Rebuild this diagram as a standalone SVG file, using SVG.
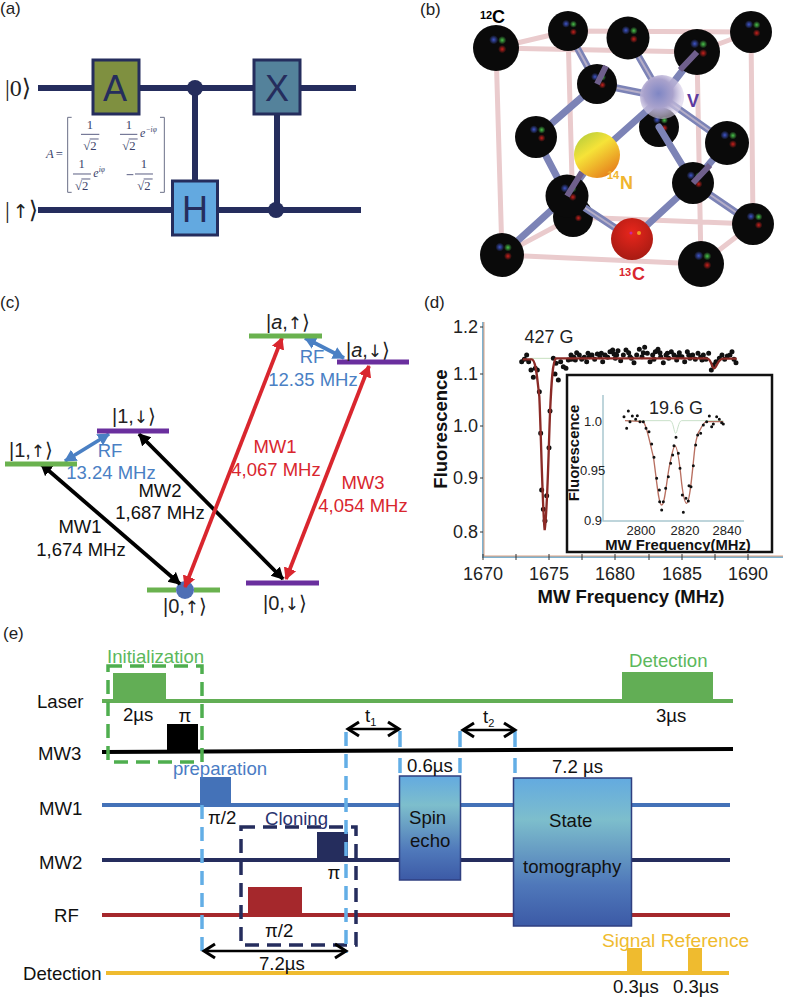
<svg xmlns="http://www.w3.org/2000/svg" xmlns:xlink="http://www.w3.org/1999/xlink" width="787" height="997" viewBox="0 0 787 997">
<style>
text{font-family:"Liberation Sans",Arial,sans-serif}
.p{font-size:17px;fill:#222}
.m{text-anchor:middle}
.gate{font-size:36px;fill:#252d5d;text-anchor:middle}
.wire{stroke:#252d5d;stroke-width:6;fill:none}
.gbox{stroke:#252d5d;stroke-width:3}
.ket{font-family:"Liberation Serif","DejaVu Serif",serif;fill:#222}
.ar{font-family:"DejaVu Sans",sans-serif}
.mx{font-family:"Liberation Serif",serif;font-size:38px;fill:#3a3f6a;text-anchor:middle}
.mxs{font-family:"Liberation Serif",serif;font-style:italic;fill:#3a3f6a}
.bar{stroke:#3a3f6a;stroke-width:2.5;fill:none}
.edge{stroke:#eacbcd;stroke-width:5;fill:none}
.bond{stroke:#7c83b6;stroke-width:7;stroke-linecap:round;fill:none}
.bondh{stroke:#b5aec8;stroke-width:2;fill:none}
.lv{stroke-width:5;fill:none}
.lg{stroke:#6ab24f}
.lp{stroke:#6a2f9e}
.t18{font-size:18.5px}
.blk{stroke:#000;stroke-width:3.8;fill:none;marker-start:url(#hk);marker-end:url(#hk)}
.red{stroke:#d9262e;stroke-width:3.8;fill:none;marker-start:url(#hr);marker-end:url(#hr)}
.blu{stroke:#4a80c4;stroke-width:3.8;fill:none;marker-start:url(#hb);marker-end:url(#hb)}
.dim{stroke:#000;stroke-width:2.5;fill:none;marker-start:url(#ho);marker-end:url(#ho)}
.line{stroke-width:4;fill:none}
.vd{stroke:#63aee6;stroke-width:3.5;fill:none}
.e{font-size:18.6px;fill:#111}
.cr{fill:none;stroke:#b86f60;stroke-width:4}
</style>
<defs>
<marker id="hk" markerUnits="userSpaceOnUse" markerWidth="16" markerHeight="14" refX="11" refY="6.500" orient="auto-start-reverse"><path d="M0,0L12,6.500L0,13z" fill="#000"/></marker>
<marker id="hr" markerUnits="userSpaceOnUse" markerWidth="16" markerHeight="14" refX="11" refY="6.500" orient="auto-start-reverse"><path d="M0,0L12,6.500L0,13z" fill="#d9262e"/></marker>
<marker id="hb" markerUnits="userSpaceOnUse" markerWidth="16" markerHeight="14" refX="11" refY="6.500" orient="auto-start-reverse"><path d="M0,0L12,6.500L0,13z" fill="#4a80c4"/></marker>
<marker id="ho" markerUnits="userSpaceOnUse" markerWidth="16" markerHeight="18" refX="13" refY="9" orient="auto-start-reverse"><path d="M2,2L13,9L2,16" fill="none" stroke="#000" stroke-width="3"/></marker>
<radialGradient id="gb"><stop offset="0" stop-color="#3f55c8"/><stop offset="1" stop-color="#3f55c8" stop-opacity="0"/></radialGradient>
<radialGradient id="gg"><stop offset="0" stop-color="#49c24a"/><stop offset="1" stop-color="#49c24a" stop-opacity="0"/></radialGradient>
<radialGradient id="gr"><stop offset="0" stop-color="#c8201c"/><stop offset="1" stop-color="#c8201c" stop-opacity="0"/></radialGradient>
<g id="atom">
<circle r="1" fill="#0a0a0a"/>
<circle cx="-.1" cy="-.36" r=".2" fill="url(#gb)"/>
<circle cx=".27" cy="-.34" r=".18" fill="url(#gg)"/>
<circle cx=".27" cy=".05" r=".18" fill="url(#gr)"/>
</g>
<linearGradient id="yl" x1="0" y1="0" x2=".7" y2="1"><stop offset="0" stop-color="#a8c83c"/><stop offset=".45" stop-color="#f6e338"/><stop offset="1" stop-color="#e6801c"/></linearGradient>
<radialGradient id="rd" cx=".5" cy=".35" r=".7"><stop offset="0" stop-color="#e8261c"/><stop offset="1" stop-color="#a31a12"/></radialGradient>
<radialGradient id="vac" cx=".42" cy=".42" r=".55"><stop offset="0" stop-color="#7f86c4"/><stop offset=".6" stop-color="#a9a2cc"/><stop offset="1" stop-color="#d8cfe8" stop-opacity=".6"/></radialGradient>
<linearGradient id="blk" x1="0" y1="0" x2="0" y2="1"><stop offset="0" stop-color="#63aae0"/><stop offset=".28" stop-color="#7dbecc"/><stop offset=".72" stop-color="#4f78ba"/><stop offset="1" stop-color="#3c5aa6"/></linearGradient>
</defs>

<!-- panel labels -->
<text class="p" x="0" y="14">(a)</text>
<text class="p" x="420" y="15">(b)</text>
<text class="p" x="0" y="308">(c)</text>
<text class="p" x="424" y="308">(d)</text>
<text class="p" x="3" y="639">(e)</text>

<!-- circuit wires and control links -->
<g id="circuit-wires">
<path class="wire" d="M38,88H356M38,210H361M195,88V181M277,115V210"/>
<circle cx="195" cy="88" r="8" fill="#252d5d"/>
<circle cx="276" cy="210" r="8" fill="#252d5d"/>
</g>
<g id="gate-A"><rect class="gbox" x="93" y="60" width="46" height="54" fill="#7f9040"/><text class="gate" x="115" y="101">A</text></g>
<g id="gate-X"><rect class="gbox" x="254" y="60" width="46" height="54" fill="#54829b"/><text class="gate" x="277" y="101">X</text></g>
<g id="gate-H"><rect class="gbox" x="172.500" y="181" width="45" height="54" fill="#63a9e0"/><text class="gate" x="195" y="222">H</text></g>
<text class="ket" x="5" y="96" font-size="24">|0⟩</text>
<text class="ket" x="5" y="218" font-size="24">|<tspan class="ar" font-size="19" dx="3">↑</tspan>⟩</text>

<!-- unitary matrix of gate A -->
<g id="matrix" transform="scale(.33333)">
<text class="mxs" x="138" y="474" font-size="38">A</text><text class="mx" x="178" y="474">=</text>
<path d="M215,352H203V577H215M480,352H493V577H480" fill="none" stroke="#6a6f88" stroke-width="3"/>
<path class="bar" d="M243,403H298M360,403H412M219,522H273M405,522H459M380,524H400M269,417H296M386,417H413M244,537H271M431,537H458"/>
<text class="mx" x="270" y="387">1</text><text class="mx" x="270" y="450">√2</text>
<text class="mx" x="387" y="387">1</text><text class="mx" x="387" y="450">√2</text>
<text class="mxs" x="420" y="412" font-size="36">e</text><text class="mxs" x="437" y="396" font-size="22">−iφ</text>
<text class="mx" x="245" y="505">1</text><text class="mx" x="245" y="570">√2</text>
<text class="mxs" x="280" y="532" font-size="36">e</text><text class="mxs" x="296" y="516" font-size="22">iφ</text>
<text class="mx" x="432" y="505">1</text><text class="mx" x="432" y="570">√2</text>
</g>

<!-- NV centre lattice -->
<g id="lattice">
<path class="edge" d="M568,31L751,32M496,48L697,52M496,48L568,31M697,52L751,32M496,48L502,255M568,31L573,217M697,52L701,264M751,32L753,224M502,255L701,264M573,217L753,224M502,255L573,217M701,264L753,224"/>
<use xlink:href="#atom" transform="translate(659 127) scale(20)"/>
<use xlink:href="#atom" transform="translate(573 217) scale(20)"/>
<path class="bond" d="M568,31L597,84M628,38L662,97M697,52L662,97M597,84L536,137M597,84L662,97M662,97L597,155M662,97L727,143M659,127L693,183M727,143L693,183M536,137L567,196M597,155L567,196M567,196L632,239M632,239L693,183M693,183L753,224M567,196L502,255"/>
<path class="bondh" d="M568,31L597,84M628,38L662,97M597,84L662,97M662,97L727,143M567,196L632,239M693,183L753,224"/>
<use xlink:href="#atom" transform="translate(496 48) scale(23)"/>
<use xlink:href="#atom" transform="translate(568 31) scale(20)"/>
<use xlink:href="#atom" transform="translate(628 38) scale(21.500)"/>
<use xlink:href="#atom" transform="translate(697 52) scale(23)"/>
<use xlink:href="#atom" transform="translate(751 32) scale(21)"/>
<use xlink:href="#atom" transform="translate(597 84) scale(20)"/>
<use xlink:href="#atom" transform="translate(536 137) scale(21)"/>
<use xlink:href="#atom" transform="translate(727 143) scale(22)"/>
<use xlink:href="#atom" transform="translate(567 196) scale(21.500)"/>
<use xlink:href="#atom" transform="translate(693 183) scale(21)"/>
<use xlink:href="#atom" transform="translate(753 224) scale(21)"/>
<use xlink:href="#atom" transform="translate(502 255) scale(22)"/>
<use xlink:href="#atom" transform="translate(701 264) scale(23)"/>
<path d="M597,84L606,66M697,52L680,70M567,196L582,172M693,183L710,165" stroke="#6f5f8c" stroke-width="6" fill="none"/>
<circle cx="662" cy="97" r="22" fill="url(#vac)"/>
<circle cx="597" cy="155" r="23" fill="url(#yl)"/>
<circle cx="632" cy="239" r="21" fill="url(#rd)"/>
<circle cx="631" cy="233" r="1.500" fill="#c828a0"/><circle cx="639" cy="233" r="2" fill="#f09a20"/>
<text x="480" y="19" font-size="11" font-weight="bold" fill="#000">12</text><text x="492" y="23" font-size="18" font-weight="bold" fill="#000">C</text>
<text x="687" y="107" font-size="18" font-weight="bold" fill="#5b3aa0">V</text>
<text x="607" y="179" font-size="11" font-weight="bold" fill="#f0b52f">14</text><text x="620" y="189" font-size="18" font-weight="bold" fill="#f0b52f">N</text>
<text x="619" y="276" font-size="11" font-weight="bold" fill="#d9262e">13</text><text x="632" y="280" font-size="18" font-weight="bold" fill="#d9262e">C</text>
</g>

<!-- energy level transitions -->
<g id="transitions">
<circle cx="185" cy="590" r="9" fill="#4f6fb5"/>
<path class="blk" d="M41,464L180,584"/>
<path class="blk" d="M139,434L283,579"/>
<path class="red" d="M282,338L185,587"/>
<path class="red" d="M369,366L286,579"/>
<path class="blu" d="M65,461L109,434"/>
<path class="blu" d="M305,338L344,358"/>
</g>
<g id="levels">
<path class="lv lg" d="M5,464H77M147,590H176M194,590H220M249,336H322"/>
<path class="lv lp" d="M97,431H169M246,583H319M337,362H409"/>
<g class="ket" font-size="20" text-anchor="middle">
<text x="31" y="457">|1,<tspan class="ar" font-size="17">↑</tspan>⟩</text>
<text x="134" y="423">|1,<tspan class="ar" font-size="17">↓</tspan>⟩</text>
<text x="185" y="613">|0,<tspan class="ar" font-size="17">↑</tspan>⟩</text>
<text x="285" y="610">|0,<tspan class="ar" font-size="17">↓</tspan>⟩</text>
<text x="288" y="329">|<tspan font-style="italic">a</tspan>,<tspan class="ar" font-size="17">↑</tspan>⟩</text>
<text x="368" y="357">|<tspan font-style="italic">a</tspan>,<tspan class="ar" font-size="17">↓</tspan>⟩</text>
</g>
</g>
<g id="level-labels" class="t18" text-anchor="middle">
<text class="t18" x="80" y="533" fill="#111">MW1</text><text class="t18" x="81" y="556" fill="#111">1,674 MHz</text>
<text class="t18" x="160" y="497" fill="#111">MW2</text><text class="t18" x="160" y="519" fill="#111">1,687 MHz</text>
<text class="t18" x="110" y="457" fill="#4a80c4">RF</text><text class="t18" x="111" y="479" fill="#4a80c4">13.24 MHz</text>
<text class="t18" x="312" y="363" fill="#4a80c4">RF</text><text class="t18" x="313" y="386" fill="#4a80c4">12.35 MHz</text>
<text class="t18" x="275" y="453" fill="#d9262e">MW1</text><text class="t18" x="276" y="476" fill="#d9262e">4,067 MHz</text>
<text class="t18" x="363" y="489" fill="#d9262e">MW3</text><text class="t18" x="363" y="512" fill="#d9262e">4,054 MHz</text>
</g>

<!-- ODMR spectra -->
<g id="spectrum">
<path d="M483,322V557H783" fill="none" stroke="#7fb2cf" stroke-width="2"/>
<path d="M484,322V556H783" fill="none" stroke="#dba182" stroke-width="1"/>
<path d="M483,554v6M516,554v6M549,554v6M582,554v6M615,554v6M649,554v6M682,554v6M715,554v6M748,554v6M480,327h3M480,374h3M480,426h3M480,478h3M480,532h3" stroke="#333" stroke-width="1" fill="none"/>
<g font-size="18" fill="#222" text-anchor="end">
<text x="478" y="333">1.2</text><text x="478" y="380">1.1</text><text x="478" y="432">1.0</text><text x="478" y="484">0.9</text><text x="478" y="538">0.8</text>
</g>
<g font-size="18" fill="#222" text-anchor="middle">
<text x="483" y="580">1670</text><text x="549" y="580">1675</text><text x="615" y="580">1680</text><text x="682" y="580">1685</text><text x="748" y="580">1690</text>
<text x="549" y="343">427 G</text>
</g>
<text x="631" y="603" font-size="18.500" font-weight="bold" fill="#111" text-anchor="middle">MW Frequency (MHz)</text>
<text transform="translate(447 429) rotate(-90)" font-size="18.500" font-weight="bold" fill="#111" text-anchor="middle">Fluorescence</text>
<g transform="translate(430 300) scale(.33333)">
<path d="M300,175H370" stroke="#c7e0c0" stroke-width="3" fill="none"/>
<path fill="none" stroke="#111" stroke-width="15" stroke-linecap="round" d="M275,185h0M283,178h0M290,165h0M296,185h0M303,210h0M310,232h0M316,205h0M322,210h0M328,275h0M332,400h0M335,570h0M340,628h0M345,662h0M350,587h0M357,443h0M360,333h0M370,175h0M375,222h0M385,240h0M378,190h0M392,185h0M400,200h0M408,205h0M415,180h0M423,165h0M432,172h0M440,158h0M448,165h0M455,178h0M463,172h0M470,185h0M478,170h0M486,165h0M494,178h0M502,162h0M510,170h0M518,185h0M525,165h0M533,172h0M540,155h0M548,150h0M556,175h0M564,152h0M572,182h0M580,165h0M588,150h0M596,158h0M604,175h0M612,188h0M620,165h0M628,148h0M636,170h0M644,142h0M652,160h0M660,185h0M668,165h0M676,155h0M684,148h0M692,170h0M700,188h0M708,165h0M716,175h0M724,155h0M732,165h0M740,180h0M748,158h0M756,170h0M764,185h0M772,155h0M780,175h0M788,165h0M796,178h0M804,160h0M812,172h0M820,165h0M828,178h0M836,160h0M844,210h0M850,195h0M858,185h0M868,175h0M876,165h0M884,178h0M892,168h0M900,165h0M906,155h0M912,178h0M918,188h0M436,180h0M474,160h0M514,160h0M552,162h0M600,170h0M640,158h0M672,178h0M712,160h0M744,170h0M776,165h0M816,180h0M424,178h0M560,165h0M690,158h0"/>
<path d="M278,178L305,178C318,178 322,240 328,290C333,400 338,640 344,690C352,640 356,440 360,340C364,250 368,180 378,175L830,175C845,175 845,205 852,205C860,205 862,176 880,176L920,176" fill="none" stroke="#8b2a26" stroke-width="7"/>
</g>
</g>
<g id="inset">
<rect x="567" y="375" width="205" height="177" fill="#fff" stroke="#111" stroke-width="2.500"/>
<path d="M603,395V521H744" fill="none" stroke="#a9c8cf" stroke-width="1.500"/>
<g transform="translate(430 300) scale(.33333)">
<path d="M590,362H720C730,362 732,400 737,400C742,400 745,362 755,362H880" fill="none" stroke="#c9e0c9" stroke-width="3"/>
<path class="cr" d="M585,362L640,365C650,375 660,430 670,470C678,520 685,615 695,615C705,615 712,520 720,490C725,465 730,438 735,438C742,438 748,480 755,550C760,590 765,610 770,610C780,610 788,500 795,440C800,410 805,395 810,390C820,370 825,365 830,365H880"/>
<path fill="none" stroke="#111" stroke-width="9" stroke-linecap="round" d="M582,350h0M590,385h0M595,333h0M600,365h0M607,348h0M617,358h0M622,347h0M630,365h0M640,365h0M648,385h0M657,395h0M665,432h0M672,472h0M680,535h0M688,570h0M689,605h0M700,605h0M695,630h0M707,565h0M715,530h0M722,490h0M728,465h0M732,437h0M738,412h0M745,460h0M750,505h0M757,585h0M768,595h0M760,637h0M775,603h0M777,557h0M783,560h0M790,497h0M797,435h0M803,405h0M812,400h0M820,375h0M830,365h0M838,348h0M845,380h0M850,372h0M860,350h0M868,358h0M875,368h0M880,372h0"/>
</g>
<g font-size="13" fill="#222">
<text x="602" y="426" text-anchor="end">1.0</text><text x="580" y="475">0.95</text><text x="602" y="525" text-anchor="end">0.9</text>
<text x="641" y="535" text-anchor="middle">2800</text><text x="685" y="535" text-anchor="middle">2820</text><text x="727" y="535" text-anchor="middle">2840</text>
</g>
<text x="676" y="414" font-size="18" fill="#222" text-anchor="middle">19.6 G</text>
<text x="678" y="550" font-size="14.800" font-weight="bold" fill="#111" text-anchor="middle">MW Frequency(MHz)</text>
<text transform="translate(579 453) rotate(-90)" font-size="15" font-weight="bold" fill="#111" text-anchor="middle">Fluorescence</text>
</g>

<!-- pulse sequence channels -->
<g id="channels">
<path class="line" stroke="#62ae55" d="M102,701H733"/>
<path fill="#62ae55" d="M113,701V673H166V701zM622,701V672H713V701z"/>
<path class="line" stroke="#000" d="M102,752L733,749"/>
<rect x="167" y="724" width="31" height="28" fill="#000"/>
<path class="line" stroke="#4472b8" d="M102,805H730"/>
<rect x="200" y="777" width="31" height="28" fill="#4472b8"/>
<path class="line" stroke="#252d5d" d="M102,860H730"/>
<rect x="317" y="832" width="31" height="28" fill="#252d5d"/>
<path class="line" stroke="#a5282c" d="M102,915H730"/>
<rect x="248" y="887" width="54" height="28" fill="#a5282c"/>
<path class="line" stroke="#efbb2f" d="M106,973H729"/>
<path fill="#efbb2f" d="M627,973V948H642V973zM688,973V948H702V973z"/>
</g>
<g id="windows">
<rect x="108" y="666" width="94" height="96" fill="none" stroke="#4fae4f" stroke-width="3.500" stroke-dasharray="14 8"/>
<rect x="241" y="827" width="115" height="118" fill="none" stroke="#252d5d" stroke-width="3.500" stroke-dasharray="14 8"/>
<path class="vd" stroke-dasharray="14 8" d="M202,805V953M346,732V953"/>
<path class="vd" d="M400,731V747M400,758V773M460,731V747M460,758V773M515,731V747M515,758V773"/>
</g>
<g id="spin-echo">
<rect x="399.500" y="776" width="61" height="104" fill="url(#blk)" stroke="#2f3f80" stroke-width="1.500"/>
<text class="e" x="409" y="824">Spin</text><text class="e" x="410" y="847">echo</text>
</g>
<g id="state-tomography">
<rect x="513.500" y="778" width="118" height="148" fill="url(#blk)" stroke="#2f3f80" stroke-width="1.500"/>
<text class="e" x="549" y="827">State</text><text class="e" x="523" y="873">tomography</text>
</g>
<g id="durations">
<path class="dim" d="M204,951H346"/>
<path class="dim" d="M348,729H399"/>
<path class="dim" d="M463,730H515"/>
</g>
<g id="channel-labels">
<text class="e" x="37" y="708">Laser</text>
<text class="e" x="38" y="760">MW3</text>
<text class="e" x="39" y="815">MW1</text>
<text class="e" x="39" y="869">MW2</text>
<text class="e" x="54" y="922">RF</text>
<text class="e" x="23" y="980">Detection</text>
<text class="e" x="107" y="663" style="fill:#5cb85c">Initialization</text>
<text class="e" x="173" y="775" style="fill:#4a7cc4">preparation</text>
<text class="e" x="265" y="825" style="fill:#2a3470">Cloning</text>
<text class="e" x="629" y="667" style="fill:#5cb85c">Detection</text>
<text class="e" x="602" y="947" style="fill:#efbb2f;font-size:19.2px">Signal Reference</text>
<text class="e" x="123" y="721">2µs</text>
<text class="e m" x="185" y="722">π</text>
<text class="e" x="208" y="824">π/2</text>
<text class="e m" x="334" y="879">π</text>
<text class="e" x="265" y="937">π/2</text>
<text class="e" x="259" y="970">7.2µs</text>
<text class="e" x="365" y="722">t<tspan font-size="11" dy="4">1</tspan></text>
<text class="e" x="483" y="723">t<tspan font-size="11" dy="4">2</tspan></text>
<text class="e" x="407" y="772">0.6µs</text>
<text class="e" x="552" y="773">7.2 µs</text>
<text class="e" x="656" y="722">3µs</text>
<text class="e" x="613" y="993">0.3µs</text>
<text class="e" x="673" y="993">0.3µs</text>
</g>
</svg>
